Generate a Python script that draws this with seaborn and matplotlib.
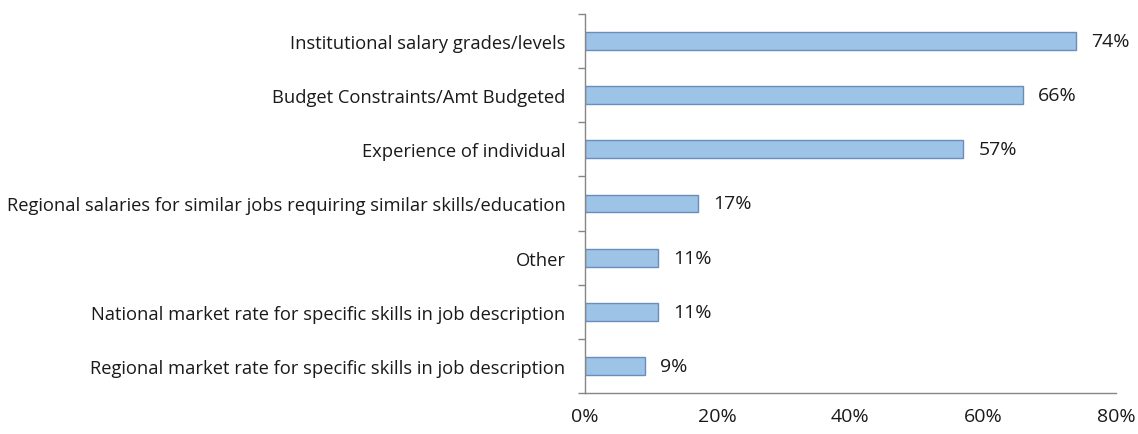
import matplotlib
matplotlib.use("Agg")
import matplotlib.pyplot as plt
import seaborn as sns
import numpy as np
import pandas as pd
from matplotlib.ticker import FixedLocator, PercentFormatter

categories = [
    "Institutional salary grades/levels",
    "Budget Constraints/Amt Budgeted",
    "Experience of individual",
    "Regional salaries for similar jobs requiring similar skills/education",
    "Other",
    "National market rate for specific skills in job description",
    "Regional market rate for specific skills in job description",
]
values = [74, 66, 57, 17, 11, 11, 9]
x_ticks = [0, 20, 40, 60, 80]

df = pd.DataFrame({"Factor": categories, "Percent": values})

sns.set_theme(style="white")
plt.rcParams["font.family"] = ["Open Sans", "DejaVu Sans"]

fig = plt.figure(figsize=(11.38, 4.35), dpi=100)
ax = fig.add_axes([0.514, 0.0943, 0.4666, 0.8712])

sns.barplot(data=df, x="Percent", y="Factor", orient="h", ax=ax,
            color="#9DC3E6", saturation=1, edgecolor="#6A8DBB",
            linewidth=1.0, width=0.33)

for p, v in zip(ax.patches, values):
    ax.text(p.get_width() + 2.3, p.get_y() + p.get_height() / 2, f"{v}%",
            va="center", ha="left", fontsize=14, color="#1a1a1a")

ax.set_xlim(0, 80)
ax.set_ylim(len(categories) - 0.5, -0.5)
ax.set_xticks(x_ticks)
ax.xaxis.set_major_formatter(PercentFormatter(decimals=0))
ax.set_xlabel("")
ax.set_ylabel("")

for side in ["top", "right"]:
    ax.spines[side].set_visible(False)
for side in ["left", "bottom"]:
    ax.spines[side].set_color("#868686")
    ax.spines[side].set_linewidth(1.0)

ax.tick_params(axis="x", which="major", direction="out", length=5, width=1,
               color="#868686", labelsize=14, labelcolor="#1a1a1a", pad=5)
ax.tick_params(axis="y", which="major", length=0, labelsize=13.2,
               labelcolor="#1a1a1a", pad=14)
ax.yaxis.set_minor_locator(FixedLocator(np.arange(-0.5, len(categories), 1.0)))
ax.tick_params(axis="y", which="minor", direction="out", left=True, length=5,
               width=1, color="#868686")

fig.savefig("out.png", dpi=100)
